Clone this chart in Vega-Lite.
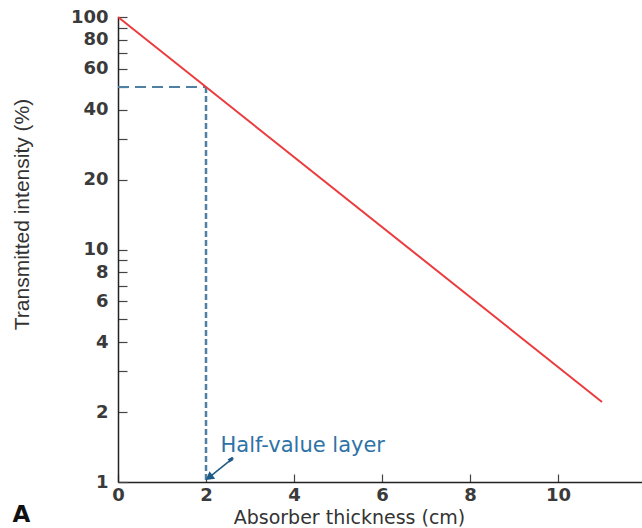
{
  "$schema": "https://vega.github.io/schema/vega-lite/v6.json",
  "width": 528,
  "height": 465,
  "autosize": {"type": "none"},
  "padding": {"left": 118, "top": 17, "right": 0, "bottom": 46},
  "background": "white",
  "config": {"view": {"stroke": null}, "font": "DejaVu Sans"},
  "datasets": {
    "curve": [{"x": 0, "y": 100}, {"x": 11, "y": 2.21}],
    "hline": [{"x": 0, "y": 50}, {"x": 2, "y": 50}],
    "vline": [{"x": 2, "y": 50}, {"x": 2, "y": 1}],
    "arrow": [{"x": 2.62, "y": 1.27, "x2": 2.12, "y2": 1.065}],
    "head": [{"x": 2.07, "y": 1.045}],
    "squiggle": [{"x": 2.5, "y": 1.245, "o": 1}, {"x": 2.6, "y": 1.275, "o": 2}, {"x": 2.52, "y": 1.22, "o": 3}, {"x": 2.62, "y": 1.25, "o": 4}],
    "labels": [
      {"x": 2.33, "y": 1.43, "t": "Half-value layer"}
    ],
    "panel": [{"x": -2.4, "y": 0.72, "t": "A"}]
  },
  "encoding": {
    "x": {
      "field": "x", "type": "quantitative",
      "scale": {"domain": [0, 12], "nice": false, "zero": false},
      "axis": {
        "title": "Absorber thickness (cm)",
        "values": [0, 2, 4, 6, 8, 10],
        "grid": false,
        "domainColor": "#222", "domainWidth": 1.5,
        "tickColor": "#444", "tickWidth": 1.2, "tickSize": -8,
        "labelPadding": 12, "labelFontSize": 18, "labelFont": "DejaVu Sans", "labelFontWeight": "bold",
        "labelColor": "#3a3a3a", "labelFlush": false,
        "titleFontSize": 19, "titleFont": "DejaVu Sans", "titleFontWeight": "normal", "titleColor": "#333",
        "titleX": 231, "titleY": 35, "titleAlign": "center", "titleBaseline": "middle"
      }
    },
    "y": {
      "field": "y", "type": "quantitative",
      "scale": {"type": "log", "domain": [1, 100], "nice": false},
      "axis": {
        "title": "Transmitted intensity (%)",
        "values": [1, 2, 3, 4, 5, 6, 7, 8, 9, 10, 20, 30, 40, 50, 60, 70, 80, 90, 100],
        "format": "d",
        "labelExpr": "indexof([1,2,4,6,8,10,20,40,60,80,100], datum.value) >= 0 ? datum.label : ''",
        "grid": false,
        "domainColor": "#222", "domainWidth": 1.5,
        "tickColor": "#444", "tickWidth": 1.2, "tickSize": -9,
        "labelPadding": 19, "labelFontSize": 18, "labelFont": "DejaVu Sans", "labelFontWeight": "bold",
        "labelColor": "#3a3a3a", "labelFlush": false,
        "titleFontSize": 21, "titleFont": "Liberation Sans", "titleFontWeight": "normal", "titleColor": "#333",
        "titleAngle": -90, "titleX": -96, "titleY": 197, "titleAlign": "center", "titleBaseline": "middle"
      }
    }
  },
  "layer": [
    {
      "data": {"name": "hline"},
      "mark": {"type": "line", "color": "#4f7fa3", "strokeWidth": 2, "strokeDash": [11, 6]},
      "encoding": {}
    },
    {
      "data": {"name": "vline"},
      "mark": {"type": "line", "color": "#4f7fa3", "strokeWidth": 2.5, "strokeDash": [6, 3]},
      "encoding": {}
    },
    {
      "data": {"name": "curve"},
      "mark": {"type": "line", "color": "#ec3b3d", "strokeWidth": 2},
      "encoding": {}
    },
    {
      "data": {"name": "arrow"},
      "mark": {"type": "rule", "color": "#1f5a85", "strokeWidth": 1.5},
      "encoding": {"x2": {"field": "x2"}, "y2": {"field": "y2"}}
    },
    {
      "data": {"name": "squiggle"},
      "mark": {"type": "line", "color": "#1f5a85", "strokeWidth": 1.3},
      "encoding": {"order": {"field": "o"}}
    },
    {
      "data": {"name": "head"},
      "mark": {"type": "point", "shape": "triangle-up", "filled": true, "color": "#1f5a85", "size": 90, "angle": 233, "opacity": 1},
      "encoding": {}
    },
    {
      "data": {"name": "labels"},
      "mark": {"type": "text", "align": "left", "baseline": "middle", "fontSize": 21, "font": "DejaVu Sans", "color": "#2f72a6"},
      "encoding": {"text": {"field": "t"}}
    },
    {
      "data": {"name": "panel"},
      "mark": {"type": "text", "align": "left", "baseline": "middle", "fontSize": 23, "font": "DejaVu Sans", "fontWeight": "bold", "color": "#111"},
      "encoding": {"text": {"field": "t"}}
    }
  ]
}
